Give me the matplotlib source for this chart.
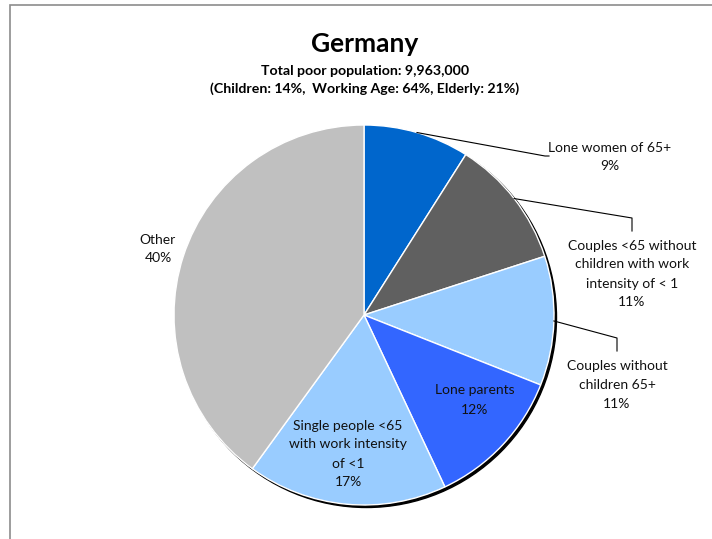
import matplotlib.pyplot as plt
import numpy as np
from matplotlib.patches import Circle, Rectangle

plt.rcParams['font.family'] = ['Lato', 'DejaVu Sans']

# data
categories = ["Lone women of 65+",
              "Couples <65 without\nchildren with work\nintensity of < 1",
              "Couples without\nchildren 65+",
              "Lone parents",
              "Single people <65\nwith work intensity\nof <1",
              "Other"]
shares = [9, 11, 11, 12, 17, 40]
colors = ["#0066CC", "#606060", "#99CCFF", "#3366FF", "#99CCFF", "#C0C0C0"]

TITLE = "Germany"
SUBTITLE = ("Total poor population: 9,963,000\n"
            "(Children: 14%,  Working Age: 64%, Elderly: 21%)")

W, H = 712, 539
CX, CY, R = 364, H - 315, 190

# label anchor (pixel coords, y down) and optional leader-line elbow
label_pos = [(610, 157), (632, 274), (617, 385), (475, 400), (348, 454), (158, 249)]
leader_elbow = [[(545, 156), (549, 156)],
                [(632, 218), (632, 231)],
                [(617, 338), (617, 351)],
                None, None, None]

fig = plt.figure(figsize=(W / 100, H / 100), dpi=100)
ax = fig.add_axes([0, 0, 1, 1])

# soft shadow behind the pie
ax.add_patch(Circle((CX + 2.5, CY - 2.5), R, color="black", zorder=0))
wedges, _ = ax.pie(shares, colors=colors, startangle=90, counterclock=False,
                   center=(CX, CY), radius=R,
                   wedgeprops=dict(edgecolor="white", linewidth=1))
ax.set_xlim(0, W)
ax.set_ylim(0, H)
ax.set_aspect("equal")
ax.axis("off")

for w, cat, val, (lx, ly), elbow in zip(wedges, categories, shares,
                                         label_pos, leader_elbow):
    ax.text(lx, H - ly, f"{cat}\n{val}%", ha="center", va="center",
            fontsize=10, linespacing=1.7, color="#111111", zorder=5)
    if elbow:
        mid = np.deg2rad((w.theta1 + w.theta2) / 2)
        sx, sy = CX + R * np.cos(mid), CY + R * np.sin(mid)
        xs = [sx] + [p[0] for p in elbow]
        ys = [sy] + [H - p[1] for p in elbow]
        ax.plot(xs, ys, color="black", linewidth=0.8, zorder=4)

ax.text(W / 2 + 9, H - 44, TITLE, ha="center", va="center",
        fontsize=19, fontweight="bold")
ax.text(W / 2 + 9, H - 80, SUBTITLE, ha="center", va="center",
        fontsize=10.2, fontweight="bold", linespacing=1.45)

# chart-area border (only top and left edges are visible in the crop)
ax.add_patch(Rectangle((10, -20), W + 20, H - 5 + 20, fill=False,
                       edgecolor="#8c8c8c", linewidth=1.2, zorder=6))

fig.savefig("out.png", dpi=100)
